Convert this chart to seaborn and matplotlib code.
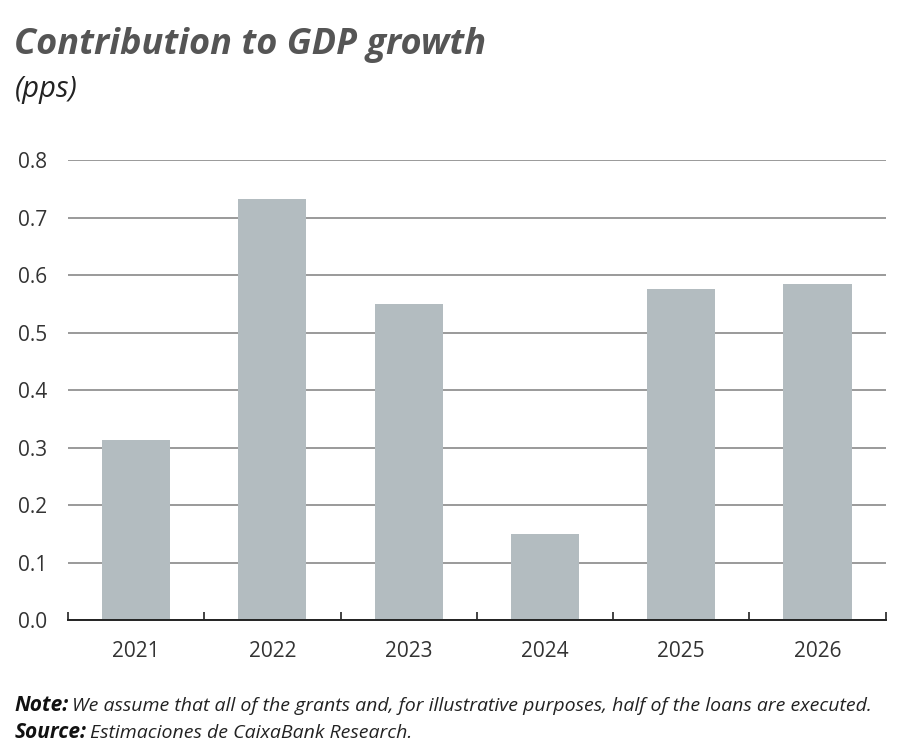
import numpy as np
import pandas as pd
import seaborn as sns
import matplotlib.pyplot as plt

years = ["2021", "2022", "2023", "2024", "2025", "2026"]
contribution = [0.313, 0.732, 0.550, 0.150, 0.575, 0.584]
y_ticks = [0.0, 0.1, 0.2, 0.3, 0.4, 0.5, 0.6, 0.7, 0.8]

df = pd.DataFrame({"year": years, "pps": contribution})

sns.set_theme(style="white")
plt.rcParams['font.family'] = ['Open Sans', 'DejaVu Sans']

fig = plt.figure(figsize=(9, 7.53), dpi=100)
ax = fig.add_axes([0.0756, 0.1766, 0.9084, 0.6109])

sns.barplot(data=df, x="year", y="pps", color="#b3bcc0", saturation=1,
            width=0.5, linewidth=0, ax=ax, zorder=3)

ax.set_ylim(0, 0.8)
ax.set_xlim(-0.5, len(years) - 0.5)
ax.set_yticks(y_ticks)
ax.set_yticklabels([f"{v:.1f}" for v in y_ticks])
ax.yaxis.grid(True, color="#9a9a9a", linewidth=1.4, zorder=0)
ax.set_axisbelow(True)

for side in ["top", "right", "left"]:
    ax.spines[side].set_visible(False)
ax.spines["bottom"].set_color("#222222")
ax.spines["bottom"].set_linewidth(1.4)
ax.spines["bottom"].set_zorder(4)

# ticks between categories, pointing up
ax.set_xticks(np.arange(len(years) + 1) - 0.5, minor=True)
ax.tick_params(axis="x", which="minor", direction="in", length=6, width=1.2,
               color="#222222", bottom=True)
ax.tick_params(axis="x", which="major", length=0, pad=15, labelsize=15,
               labelcolor="#333333")
ax.tick_params(axis="y", length=0, pad=15, labelsize=15, labelcolor="#333333")
ax.set_xlabel("")
ax.set_ylabel("")

fig.text(0.016, 0.94, "Contribution to GDP growth", fontsize=26,
         fontweight="bold", fontstyle="italic", color="#555555", va="center")
fig.text(0.016, 0.881, "(pps)", fontsize=21, fontstyle="italic",
         color="#222222", va="center")

fig.text(0.016, 0.063, "Note:", fontsize=15, fontweight="bold",
         fontstyle="italic", color="#111111", va="center")
fig.text(0.0795, 0.063,
         "We assume that all of the grants and, for illustrative purposes, half of the loans are executed.",
         fontsize=14, fontstyle="italic", color="#222222", va="center")
fig.text(0.016, 0.027, "Source:", fontsize=15, fontweight="bold",
         fontstyle="italic", color="#111111", va="center")
fig.text(0.1, 0.027, "Estimaciones de CaixaBank Research.", fontsize=14,
         fontstyle="italic", color="#222222", va="center")

fig.savefig("out.png", dpi=100)
